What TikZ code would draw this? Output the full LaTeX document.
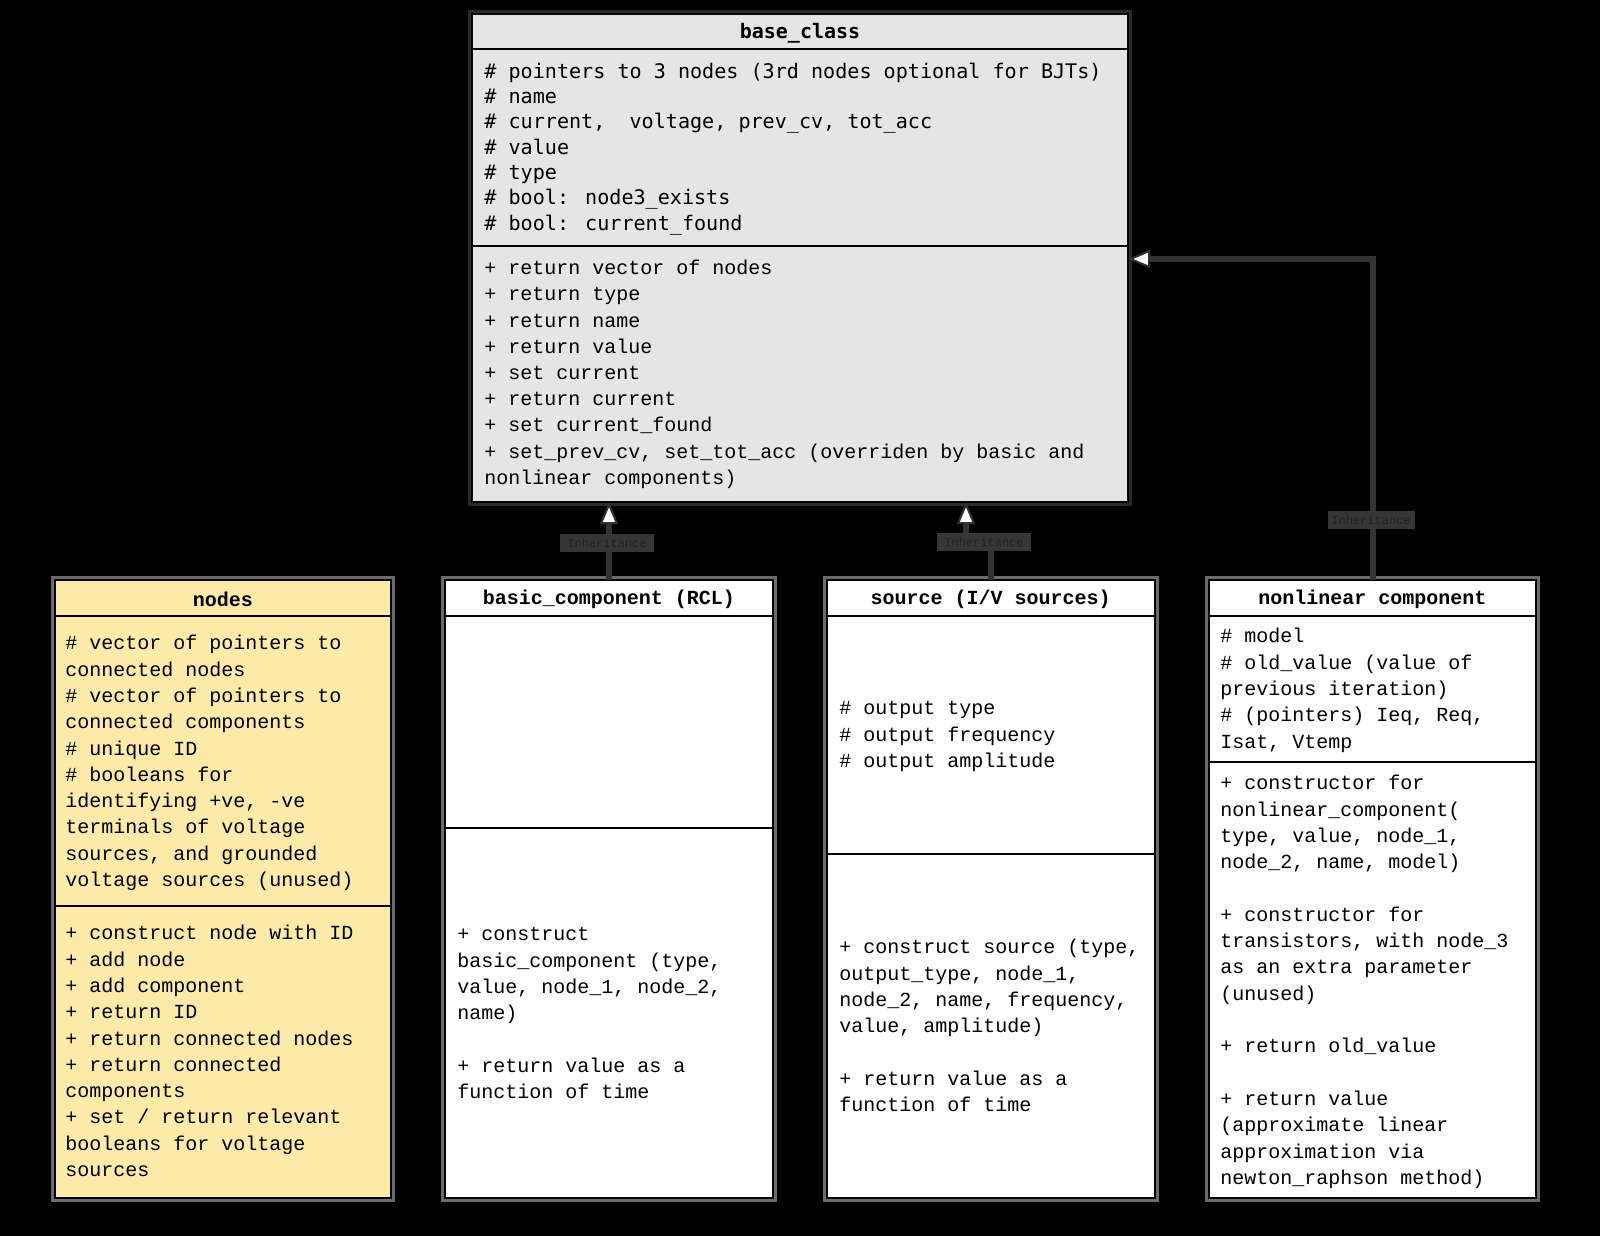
\documentclass[tikz,border=0pt]{standalone}
\usepackage{fontspec}
\setmainfont{Liberation Sans}
\newfontfamily\monoA{Liberation Mono}
\newfontfamily\monoB{DejaVu Sans Mono}
\usetikzlibrary{arrows.meta}
\definecolor{yel}{HTML}{FCEBA8}
\definecolor{basegray}{HTML}{E5E5E5}
\definecolor{ringA}{HTML}{2A2A2A}
\definecolor{ringB}{HTML}{6B6B6B}
\definecolor{conncol}{HTML}{333333}
\definecolor{labcol}{HTML}{363636}
\definecolor{labtxt}{HTML}{232323}
\tikzset{
  umlbox/.style={rectangle, draw=black, line width=1pt, inner sep=0pt, outer sep=0pt,
    preaction={draw=#1, line width=4pt}},
  sepline/.style={draw=black, line width=1pt},
  hdr/.style={inner sep=0pt, anchor=center, font=\monoA\bfseries\fontsize{10}{12}\selectfont},
  txt/.style={inner sep=0pt, anchor=north west, align=left, font=\monoA\fontsize{10}{13.15}\selectfont},
  conn/.style={draw=conncol, line width=3pt},
  inh/.style={conn, -{Triangle[open, fill=white, line width=1pt, length=11pt, width=9pt]}},
  lab/.style={rectangle, fill=labcol, inner sep=0pt, text=labtxt, font=\monoA\fontsize{6}{7}\selectfont}
}
\begin{document}
\begin{tikzpicture}[x=0.5pt,y=-0.5pt]
\fill[black] (0,0) rectangle (1600,1236);
\useasboundingbox (0,0) rectangle (1600,1236);

% ---------- boxes ----------
\node[umlbox=ringA, fill=basegray, minimum width=328pt, minimum height=244pt] (base) at (800,258) {};
\node[umlbox=ringB, fill=yel, minimum width=168pt, minimum height=309pt] (nodes) at (223,889) {};
\node[umlbox=ringB, fill=white, minimum width=164pt, minimum height=309pt] (basic) at (609,889) {};
\node[umlbox=ringB, fill=white, minimum width=164.25pt, minimum height=309pt] (src) at (990.75,889) {};
\node[umlbox=ringB, fill=white, minimum width=163.5pt, minimum height=309pt] (nl) at (1372.5,889) {};

% ---------- separators ----------
\draw[sepline] (base.west |- 0,49) -- (base.east |- 0,49);
\draw[sepline] (base.west |- 0,246) -- (base.east |- 0,246);
\draw[sepline] (nodes.west |- 0,616) -- (nodes.east |- 0,616);
\draw[sepline] (nodes.west |- 0,906) -- (nodes.east |- 0,906);
\draw[sepline] (basic.west |- 0,616) -- (basic.east |- 0,616);
\draw[sepline] (basic.west |- 0,828) -- (basic.east |- 0,828);
\draw[sepline] (src.west |- 0,616) -- (src.east |- 0,616);
\draw[sepline] (src.west |- 0,854) -- (src.east |- 0,854);
\draw[sepline] (nl.west |- 0,616) -- (nl.east |- 0,616);
\draw[sepline] (nl.west |- 0,762) -- (nl.east |- 0,762);

% ---------- headers ----------
\node[hdr, font=\monoB\bfseries\fontsize{10}{12}\selectfont] (baseT) at (800,33) {base\_class};
\node[hdr] (nodesT) at (223,599) {nodes};
\node[hdr] (basicT) at (609,599) {basic\_component (RCL)};
\node[hdr] (srcT) at (990.75,599) {source (I/V sources)};
\node[hdr] (nlT) at (1372.5,599) {nonlinear component};

% ---------- base_class ----------
\node[txt, font=\monoB\fontsize{10.05}{12.67}\selectfont] (baseA) at (484,60) {%
\strut\# pointers to 3 nodes (3rd nodes optional for BJTs)\\
\strut\# name\\
\strut\# current,~ voltage, prev\_cv, tot\_acc\\
\strut\# value\\
\strut\# type\\
\strut\# bool: node3\_exists\\
\strut\# bool: current\_found};
\node[txt, font=\monoA\fontsize{10}{13.1}\selectfont] (baseM) at (484,256) {%
\strut+ return vector of nodes\\
\strut+ return type\\
\strut+ return name\\
\strut+ return value\\
\strut+ set current\\
\strut+ return current\\
\strut+ set current\_found\\
\strut+ set\_prev\_cv, set\_tot\_acc (overriden by basic and\\
\strut nonlinear components)};

% ---------- nodes ----------
\node[txt] (nodesA) at (65,631) {%
\strut\# vector of pointers to\\
\strut connected nodes\\
\strut\# vector of pointers to\\
\strut connected components\\
\strut\# unique ID\\
\strut\# booleans for\\
\strut identifying +ve, -ve\\
\strut terminals of voltage\\
\strut sources, and grounded\\
\strut voltage sources (unused)};
\node[txt] (nodesM) at (65,921) {%
\strut+ construct node with ID\\
\strut+ add node\\
\strut+ add component\\
\strut+ return ID\\
\strut+ return connected nodes\\
\strut+ return connected\\
\strut components\\
\strut+ set / return relevant\\
\strut booleans for voltage\\
\strut sources};

% ---------- basic_component ----------
\node[txt] (basicM) at (457,922) {%
\strut+ construct\\
\strut basic\_component (type,\\
\strut value, node\_1, node\_2,\\
\strut name)\\
\strut\\
\strut+ return value as a\\
\strut function of time};

% ---------- source ----------
\node[txt] (srcA) at (839,696) {%
\strut\# output type\\
\strut\# output frequency\\
\strut\# output amplitude};
\node[txt] (srcM) at (839,935) {%
\strut+ construct source (type,\\
\strut output\_type, node\_1,\\
\strut node\_2, name, frequency,\\
\strut value, amplitude)\\
\strut\\
\strut+ return value as a\\
\strut function of time};

% ---------- nonlinear component ----------
\node[txt] (nlA) at (1220,624) {%
\strut\# model\\
\strut\# old\_value (value of\\
\strut previous iteration)\\
\strut\# (pointers) Ieq, Req,\\
\strut Isat, Vtemp};
\node[txt] (nlM) at (1220,771) {%
\strut+ constructor for\\
\strut nonlinear\_component(\\
\strut type, value, node\_1,\\
\strut node\_2, name, model)\\
\strut\\
\strut+ constructor for\\
\strut transistors, with node\_3\\
\strut as an extra parameter\\
\strut (unused)\\
\strut\\
\strut+ return old\_value\\
\strut\\
\strut+ return value\\
\strut (approximate linear\\
\strut approximation via\\
\strut newton\_raphson method)};

% ---------- connectors ----------
\coordinate (j2) at (966,543);
\coordinate (j3) at (1372,259);
\draw[inh] (basic.north) -- (basic.north |- base.south);
\draw[conn] (src.north) |- (j2);
\draw[inh] (j2) -- (j2 |- base.south);
\draw[inh] (nl.north) |- (base.east |- j3);

% ---------- connector labels ----------
\node[lab, minimum width=47pt, minimum height=9pt] (lab1) at (607,543) {Inheritance};
\node[lab, minimum width=47pt, minimum height=9pt] (lab2) at (984,542) {Inheritance};
\node[lab, minimum width=43.5pt, minimum height=9pt] (lab3) at (1371,520) {Inheritance};
\end{tikzpicture}
\end{document}
